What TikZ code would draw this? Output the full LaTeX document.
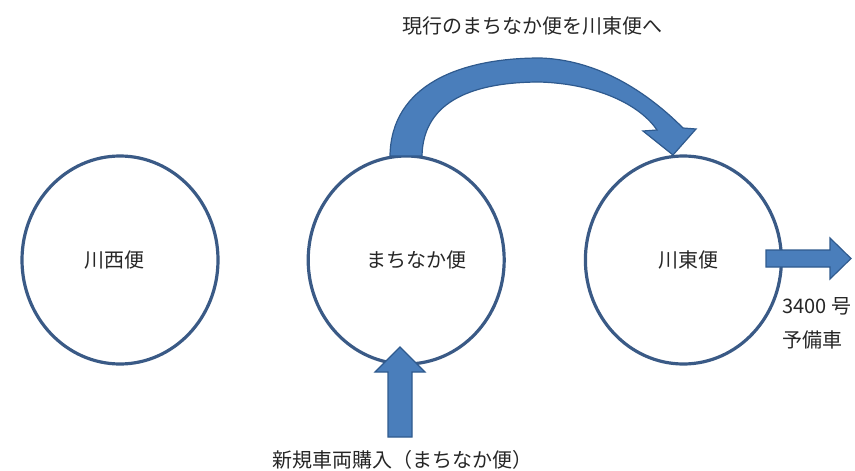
\documentclass[tikz,border=0pt]{standalone}
\usepackage{fontspec}
\setmainfont{Noto Sans CJK JP}
\usetikzlibrary{positioning, shapes.geometric}

\definecolor{ringblue}{HTML}{3A5A86}
\definecolor{arrowblue}{HTML}{4A7EBB}
\definecolor{arrowedge}{HTML}{2F5A8E}

\begin{document}
\begin{tikzpicture}[
    x=1pt, y=-1pt,
    route/.style={
      ellipse,
      draw=ringblue,
      line width=3.2pt,
      minimum width=196pt,
      minimum height=208pt,
      inner sep=0pt
    },
    blockarrow/.style={fill=arrowblue, draw=arrowedge, line width=1.2pt, line join=miter},
    note/.style={text=black!85, font=\fontsize{20}{24}\selectfont, inner sep=0pt},
    every label/.style={note}
  ]
  \useasboundingbox (0,0) rectangle (855,471);

  % Nodes
  \node[route, label={[xshift=-6pt]center:川西便}] (west) at (120,260) {};
  \node[route, right=87pt of west, label={[xshift=10pt]center:まちなか便}] (mid) {};
  \node[route, right=78pt of mid, label={[xshift=5pt]center:川東便}] (east) {};

  \node[note] (movelabel) at (532,26) {現行のまちなか便を川東便へ};
  \node[note] (buylabel) at (402,460) {新規車両購入（まちなか便）};
  \node[note] (carno) at (817,306) {3400 号};
  \node[note] (spare) at (812,340) {予備車};

  % Arrows
  \filldraw[blockarrow] (390,156) .. controls (391,85) and (460,58) .. (540,58)
    .. controls (605,60) and (655,100) .. (683,128)
    -- (696,129) -- (673,155) -- (643,131) -- (657,130)
    .. controls (640,105) and (598,84) .. (540,82)
    .. controls (475,82) and (423,100) .. (422,156) -- cycle;
  \filldraw[blockarrow] (388,437) -- (412,437) -- (412,372) -- (425,372)
    -- (400,347) -- (375,372) -- (388,372) -- cycle;
  \filldraw[blockarrow] (766,250) -- (830,250) -- (830,238) -- (851,258.5)
    -- (830,279) -- (830,267) -- (766,267) -- cycle;
\end{tikzpicture}
\end{document}
